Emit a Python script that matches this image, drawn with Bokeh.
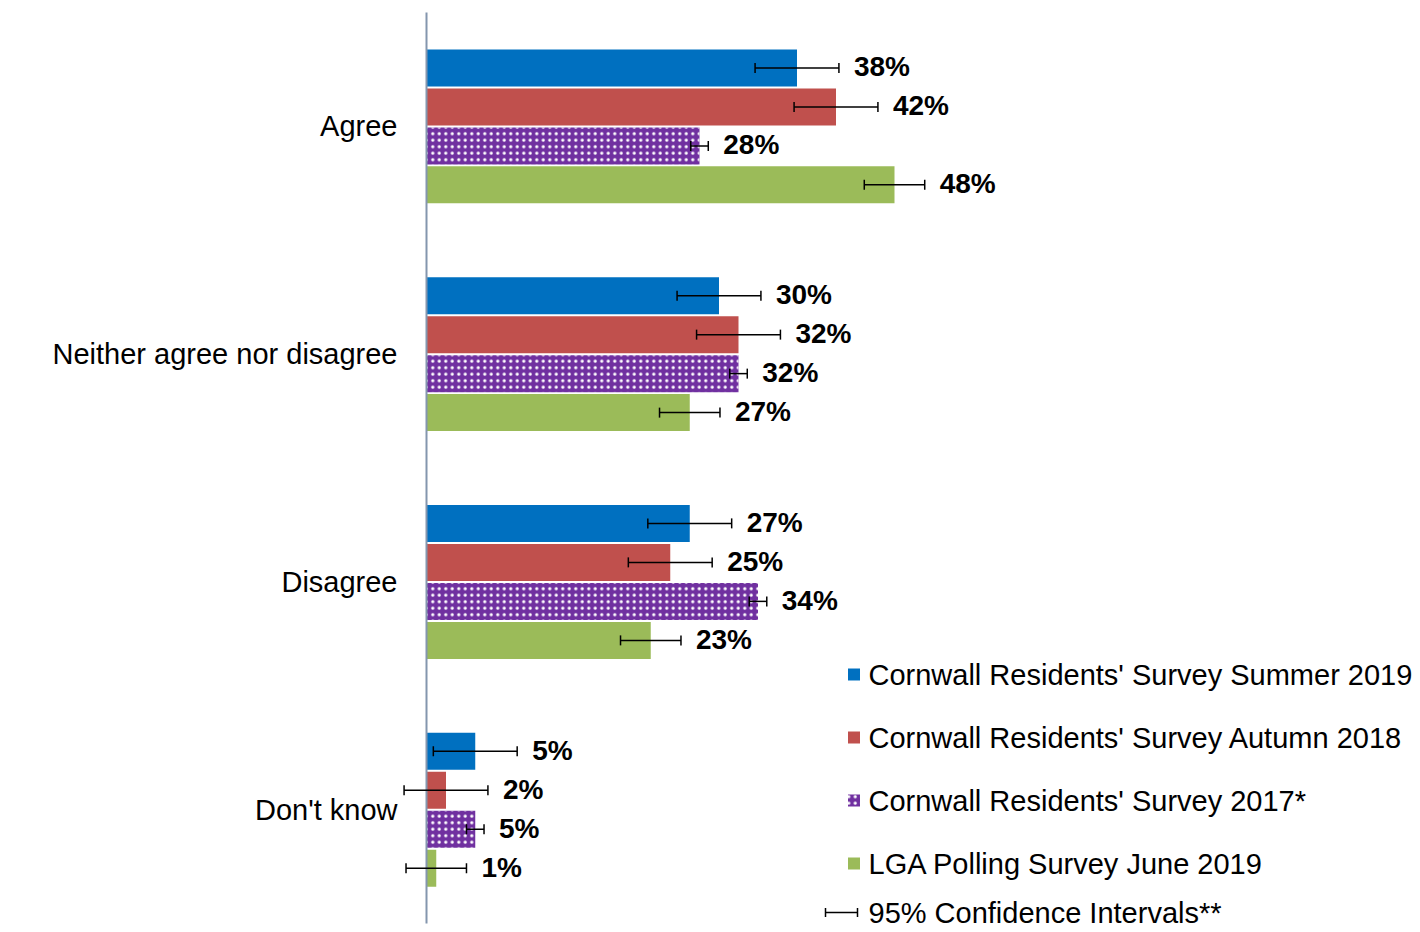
import math
from bokeh.plotting import figure
from bokeh.models import Range1d, FactorRange, ColumnDataSource
from bokeh.transform import dodge
from bokeh.core.properties import value
from bokeh.embed import file_html
from bokeh.resources import INLINE

# ---------------- data ----------------
categories = ["Agree", "Neither agree nor disagree", "Disagree", "Don't know"]
series_names = [
    "Cornwall Residents' Survey Summer 2019",
    "Cornwall Residents' Survey Autumn 2018",
    "Cornwall Residents' Survey 2017*",
    "LGA Polling Survey June 2019",
]
summer_2019 = [38, 30, 27, 5]
autumn_2018 = [42, 32, 25, 2]
survey_2017 = [28, 32, 34, 5]
lga_june_2019 = [48, 27, 23, 1]
ci_summer_2019 = [4.3, 4.3, 4.3, 4.3]
ci_autumn_2018 = [4.3, 4.3, 4.3, 4.3]
ci_survey_2017 = [0.9, 0.9, 0.9, 0.9]
ci_lga_june_2019 = [3.1, 3.1, 3.1, 3.1]
ci_legend_label = "95% Confidence Intervals**"

# ---------------- styles / layout ----------------
colors = ["#0070C0", "#C0504D", "#7030A0", "#9BBB59"]
hatches = [None, None, "dot", None]
FONT = "Liberation Sans"

W, H = 1420, 932
BORDER_L, BORDER_T, BORDER_B = 400, 3, 0
PX_PER_PCT = 9.75
ZERO_PX = 26  # distance of 0% from frame left edge
x_start = -ZERO_PX / PX_PER_PCT
x_end = x_start + (W - BORDER_L) / PX_PER_PCT

GROUP_PX = 227.75
frame_h = H - BORDER_T - BORDER_B
pad_units = (frame_h - GROUP_PX * len(categories)) / 2 / GROUP_PX
bar_step = 39 / GROUP_PX
bar_h = 37 / GROUP_PX
offsets = [1.5 * bar_step, 0.5 * bar_step, -0.5 * bar_step, -1.5 * bar_step]

# helpers for placing the legend in page pixels
zero_screen = BORDER_L + ZERO_PX
frame_bottom_screen = H - BORDER_B
pad_px = pad_units * GROUP_PX
anchor_cat = categories[-1]  # bottom category, centre at 0.5


def lx(sx):
    return (sx - zero_screen) / PX_PER_PCT


def ly(sy):
    return (frame_bottom_screen - pad_px - sy) / GROUP_PX - 0.5


p = figure(
    width=W, height=H,
    x_range=Range1d(x_start, x_end),
    y_range=FactorRange(*reversed(categories), range_padding=pad_units,
                        range_padding_units="absolute", factor_padding=0),
    output_backend="svg", toolbar_location=None, x_axis_location=None,
    min_border_left=BORDER_L, min_border_right=0,
    min_border_top=BORDER_T, min_border_bottom=BORDER_B,
    outline_line_color=None,
)
p.grid.grid_line_color = None

ax = p.yaxis[0]
ax.axis_line_color = None
ax.major_tick_line_color = None
ax.minor_tick_line_color = None
ax.major_tick_out = 0
ax.major_tick_in = 0
ax.major_label_standoff = 3
ax.major_label_text_font = FONT
ax.major_label_text_font_size = "29px"
ax.major_label_text_color = "black"

all_values = [summer_2019, autumn_2018, survey_2017, lga_june_2019]
all_ci = [ci_summer_2019, ci_autumn_2018, ci_survey_2017, ci_lga_june_2019]

sources = []
for vals, ci in zip(all_values, all_ci):
    sources.append(ColumnDataSource(dict(
        cat=categories,
        val=vals,
        lo=[v - c for v, c in zip(vals, ci)],
        hi=[v + c for v, c in zip(vals, ci)],
        label=[f"{v}%" for v in vals],
    )))

HATCH = dict(hatch_color="white", hatch_scale=6.5, hatch_weight=1.0)

# bars
for src, col, hatch, off in zip(sources, colors, hatches, offsets):
    kw = dict(hatch_pattern=hatch, **HATCH) if hatch else {}
    p.hbar(y=dodge("cat", off, range=p.y_range), left=0, right="val", height=bar_h,
           fill_color=col, line_color=None, source=src, **kw)

# vertical axis line at zero, spanning the category block
axis_src = ColumnDataSource(dict(x=[0], c0=[categories[-1]], c1=[categories[0]]))
p.segment(x0="x", y0=dodge("c0", -0.5, range=p.y_range), x1="x",
          y1=dodge("c1", 0.5, range=p.y_range), line_color="#8496AE", line_width=2,
          source=axis_src)

# error bars + labels
for src, off in zip(sources, offsets):
    yy = dodge("cat", off, range=p.y_range)
    p.segment(x0="lo", y0=yy, x1="hi", y1=yy, line_color="black", line_width=1.5, source=src)
    for end in ("lo", "hi"):
        p.scatter(x=end, y=yy, marker="dash", angle=math.pi / 2, size=10,
                  line_color="black", line_width=1.5, source=src)
    p.text(x="hi", y=yy, text="label", x_offset=15, y_offset=-1, text_align="left",
           text_baseline="middle", text_font=value(FONT), text_font_style="bold",
           text_font_size="28px", text_color="black", source=src)

# legend (manual)
leg_rows = [674, 737, 800, 863]
for row, col, hatch, name in zip(leg_rows, colors, hatches, series_names):
    kw = dict(hatch_pattern=hatch, **HATCH) if hatch else {}
    src = ColumnDataSource(dict(cat=[anchor_cat], x=[lx(853.5)], tx=[lx(868)], name=[name]))
    yy = dodge("cat", ly(row), range=p.y_range)
    p.scatter(x="x", y=yy, marker="square", size=12, fill_color=col, line_color=None,
              source=src, **kw)
    p.text(x="tx", y=yy, text="name", text_font=value(FONT), text_font_size="29px",
           text_baseline="middle", text_align="left", text_color="black", source=src)

ci_row = 912
ci_src = ColumnDataSource(dict(cat=[anchor_cat], x0=[lx(825)], x1=[lx(857)], tx=[lx(868)],
                               name=[ci_legend_label]))
yy = dodge("cat", ly(ci_row), range=p.y_range)
p.segment(x0="x0", y0=yy, x1="x1", y1=yy, line_color="black", line_width=1.5, source=ci_src)
for end in ("x0", "x1"):
    p.scatter(x=end, y=yy, marker="dash", angle=math.pi / 2, size=9,
              line_color="black", line_width=1.5, source=ci_src)
p.text(x="tx", y=yy, text="name", text_font=value(FONT), text_font_size="29px",
       text_baseline="middle", text_align="left", text_color="black", source=ci_src)

open("out.html", "w").write(file_html(p, INLINE))
